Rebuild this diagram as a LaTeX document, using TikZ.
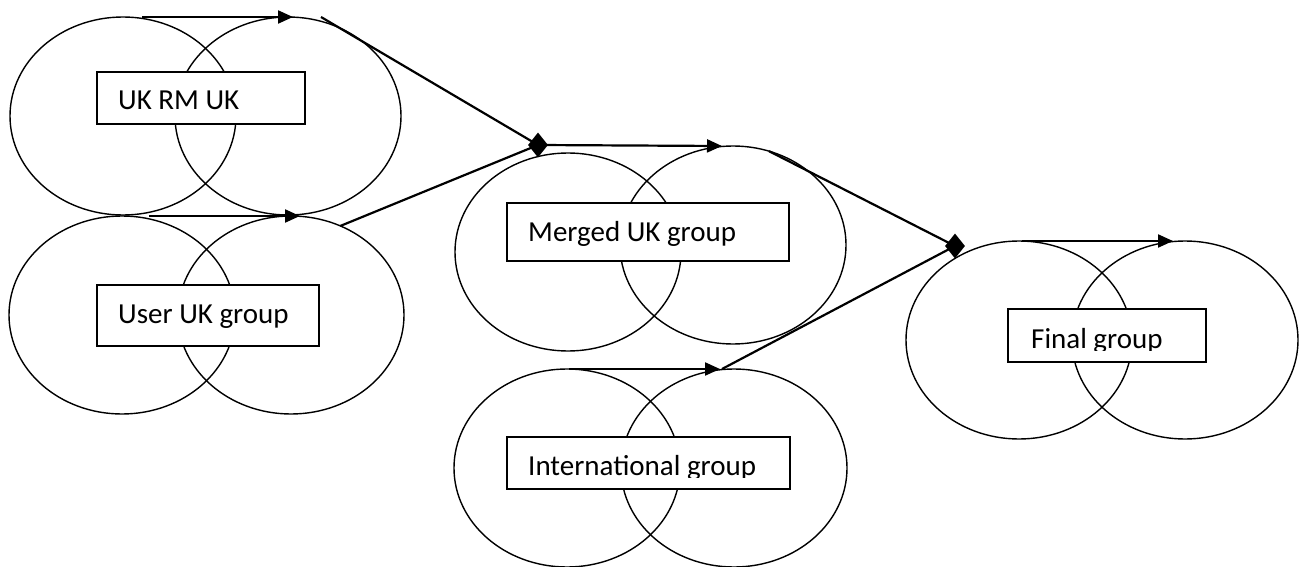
\documentclass[tikz,border=0pt]{standalone}
\usepackage{fontspec}
\setmainfont{Carlito}
\usetikzlibrary{shapes.geometric,arrows.meta}
\begin{document}
\begin{tikzpicture}[x=1pt,y=-1pt,
  ring/.style={draw, ellipse, line width=1.4pt, inner sep=0pt, outer sep=0pt,
               minimum width=226pt, minimum height=198pt},
  labelbox/.style={draw, fill=white, line width=1.4pt, rectangle, inner sep=0pt,
                   outer sep=0pt, anchor=north west},
  caption/.style={anchor=base west, inner sep=0pt, font=\fontsize{29}{34}\selectfont},
  flow/.style={line width=2.2pt, -{Triangle[length=15pt,width=13pt]}},
  feed/.style={line width=2.2pt},
  junction/.style={diamond, fill=black, inner sep=0pt, minimum width=20pt, minimum height=25pt}]
\useasboundingbox (0,0) rectangle (1306,567);

% pairs of overlapping ellipses
\node[ring] (g1l) at (123,116) {};
\node[ring] (g1r) at (288,116) {};
\node[ring] (g2l) at (122,315) {};
\node[ring] (g2r) at (291,315) {};
\node[ring] (g3l) at (568,252) {};
\node[ring] (g3r) at (733,245) {};
\node[ring] (g4l) at (1019,340) {};
\node[ring] (g4r) at (1185,340) {};
\node[ring] (g5l) at (567,468) {};
\node[ring] (g5r) at (734,468) {};

% label boxes
\node[labelbox, minimum width=208pt, minimum height=52pt] (b1) at (97,72) {};
\node[caption] (t1) at (118,110) {UK RM UK};
\node[labelbox, minimum width=222pt, minimum height=61pt] (b2) at (97,285) {};
\node[caption] (t2) at (118,323) {User UK group};
\node[labelbox, minimum width=282pt, minimum height=58pt] (b3) at (507,203) {};
\node[caption] (t3) at (528,241) {Merged UK group};
\node[labelbox, minimum width=198pt, minimum height=53pt] (b4) at (1008,309) {};
\begin{scope}
  \clip (1008,309) rectangle (1206,350);
  \node[caption] (t4) at (1031,348) {Final group};
\end{scope}
\node[labelbox, minimum width=283pt, minimum height=52pt] (b5) at (507,437) {};
\begin{scope}
  \clip (507,437) rectangle (790,477);
  \node[caption] (t5) at (528,475) {International group};
\end{scope}

% junction points
\coordinate (j1p) at (538,145);
\coordinate (j2p) at (955,246);

% connectors feeding the junctions
\draw[feed] ([xshift=33pt]g1r.north) -- (j1p);
\draw[feed] (g2r.61) -- (j1p);
\draw[feed] (g3r.69) -- (j2p);
\draw[feed] ([xshift=-12pt]g5r.north) -- (j2p);

% arrows across the top of each pair
\draw[flow] ([xshift=19pt]g1l.north) -- ([xshift=5pt]g1r.north);
\draw[flow] ([xshift=27pt]g2l.north) -- ([xshift=9pt]g2r.north);
\draw[flow] (j1p) -- ([xshift=-11pt]g3r.north);
\draw[flow] ([xshift=3pt]g4l.north) -- ([xshift=-12pt]g4r.north);
\draw[flow] ([xshift=2pt]g5l.north) -- ([xshift=-14pt]g5r.north);

\node[junction] (j1) at (j1p) {};
\node[junction] (j2) at (j2p) {};
\end{tikzpicture}
\end{document}
